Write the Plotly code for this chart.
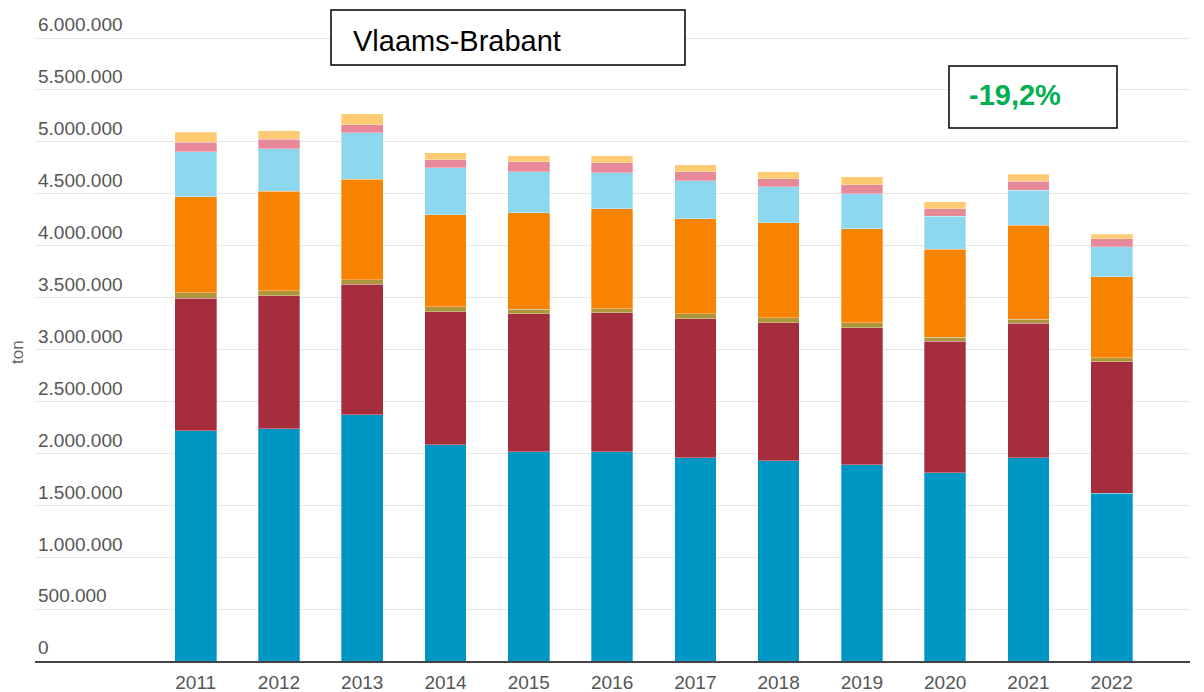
import plotly.graph_objects as go

jaren = ["2011", "2012", "2013", "2014", "2015", "2016",
         "2017", "2018", "2019", "2020", "2021", "2022"]

# tonnen per categorie
blauw = [2216000, 2235000, 2370000, 2081000, 2013000, 2013000,
         1956000, 1927000, 1888000, 1811000, 1956000, 1618000]
rood = [1278000, 1281000, 1259000, 1281000, 1329000, 1339000,
        1339000, 1329000, 1320000, 1269000, 1298000, 1265000]
olijf = [54000, 48000, 41000, 48000, 48000, 39000,
         48000, 48000, 48000, 39000, 39000, 39000]
oranje = [925000, 960000, 970000, 886000, 925000, 963000,
          915000, 915000, 906000, 848000, 906000, 777000]
lichtblauw = [431000, 410000, 449000, 453000, 395000, 347000,
              366000, 347000, 337000, 314000, 337000, 292000]
roze = [90000, 91000, 77000, 77000, 96000, 96000,
        87000, 77000, 87000, 74000, 83000, 74000]
geel = [96000, 80000, 103000, 67000, 58000, 67000,
        67000, 67000, 77000, 67000, 67000, 45000]

REEKSEN = [
    (blauw, "#0096C3"), (rood, "#A62D3E"), (olijf, "#AE963C"),
    (oranje, "#F78300"), (lichtblauw, "#8ED8EF"), (roze, "#E8899A"),
    (geel, "#FFCB72"),
]

# de pagina heeft 8px body-marge; alles in schermpixels, figuur begint op (8, 8)
OFF = 8
FW, FH = 1204 - OFF, 692 - OFF
L, R, T, B = 35 - OFF, 1190 - OFF, 0, 661 - OFF
W, H = R - L, B - T
PX_PER_TON = (661 - 38) / 6000000
YMAX = 6000000 + (38 - OFF - T) / PX_PER_TON


def px_x(p):
    return (p - OFF - L) / W


def px_y(p):
    return (B - (p - OFF)) / H


fig = go.Figure()
for waarden, kleur in REEKSEN:
    fig.add_trace(go.Bar(x=list(range(len(jaren))), y=waarden,
                         marker=dict(color=kleur, line=dict(color="rgba(255,255,255,0.5)", width=0.6)),
                         width=0.5, showlegend=False))

fig.update_layout(
    barmode="stack", width=FW, height=FH,
    plot_bgcolor="white", paper_bgcolor="white",
    margin=dict(l=L, r=FW - R, t=T, b=FH - B, autoexpand=False),
    separators=",.",
    font=dict(family="Liberation Sans, Arial", color="#555555"),
    xaxis=dict(tickmode="array", tickvals=list(range(len(jaren))), ticktext=jaren,
               range=[-1.93, 11.94], showgrid=False, showline=True, automargin=False,
               linecolor="#444444", linewidth=2, ticks="outside", ticklen=3,
               tickcolor="rgba(0,0,0,0)", tickfont=dict(size=19, color="#555555")),
    yaxis=dict(range=[0, YMAX], dtick=500000, tick0=0, tickformat=",d",
               ticklabelposition="inside top", showgrid=True, automargin=False,
               gridcolor="#E6E6E6", gridwidth=1, zeroline=False,
               tickfont=dict(size=19, color="#555555")),
)

fig.add_annotation(text="ton", xref="paper", yref="paper", x=px_x(17), y=px_y(352),
                   xanchor="center", yanchor="middle",
                   textangle=-90, showarrow=False, font=dict(size=17, color="#666666"))

# kaders
fig.add_shape(type="rect", xref="paper", yref="paper", x0=px_x(331), x1=px_x(685),
              y0=px_y(65), y1=px_y(10), line=dict(color="black", width=1.5), fillcolor="white")
fig.add_annotation(text="Vlaams-Brabant", xref="paper", yref="paper", x=px_x(351), y=px_y(41),
                   xanchor="left", yanchor="middle", showarrow=False,
                   font=dict(size=29, color="black", family="Liberation Sans, Arial"))
fig.add_shape(type="rect", xref="paper", yref="paper", x0=px_x(949), x1=px_x(1117),
              y0=px_y(128), y1=px_y(66), line=dict(color="black", width=1.5), fillcolor="white")
fig.add_annotation(text="<b>-19,2%</b>", xref="paper", yref="paper", x=px_x(967), y=px_y(95),
                   xanchor="left", yanchor="middle", showarrow=False,
                   font=dict(size=29, color="#00B050", family="Liberation Sans, Arial"))

fig.write_html("out.html")
